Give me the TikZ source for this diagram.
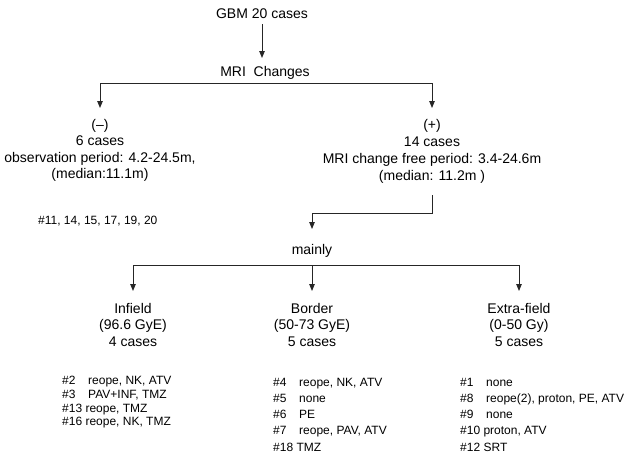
\documentclass[tikz,border=0pt]{standalone}
\usepackage{fontspec}
\setmainfont{Liberation Sans}
\usetikzlibrary{arrows.meta}
\begin{document}
\begin{tikzpicture}[x=1pt,y=-1pt,
  txt/.style={font=\fontsize{14}{17}\selectfont, inner sep=0pt, align=center},
  lst/.style={font=\fontsize{12}{14}\selectfont, inner sep=0pt, anchor=base west},
  line/.style={line width=0.9pt, draw=black!85},
  arr/.style={line, -{Triangle[length=7pt,width=5.5pt]}}]
\useasboundingbox[fill=white] (0,0) rectangle (626,455);
% text nodes
\node[txt] (gbm) at (262,14) {GBM 20 cases};
\node[txt] (mri) at (265,73) {MRI\ \ Changes};
\node[txt, font=\fontsize{14}{16.5}\selectfont] (neg) at (100,150.5) {(–)\\6 cases\\observation period: 4.2-24.5m,\\(median:11.1m)};
\node[txt, font=\fontsize{14}{17}\selectfont] (pos) at (432,151.5) {(+)\\14 cases\\MRI change free period: 3.4-24.6m\\(median: 11.2m )};
\node[lst] (negl) at (38,224) {\#11, 14, 15, 17, 19, 20};
\node[txt] (mainly) at (312,251) {mainly};
\node[txt, font=\fontsize{14}{16.5}\selectfont] (inf) at (133,324.5) {Infield\\(96.6 GyE)\\4 cases};
\node[txt, font=\fontsize{14}{16.5}\selectfont] (bor) at (312,324.5) {Border\\(50-73 GyE)\\5 cases};
\node[txt, font=\fontsize{14}{16.5}\selectfont] (ext) at (519,324.5) {Extra-field\\(0-50 Gy)\\5 cases};
% lists
\node[lst] (i1) at (62,384) {\makebox[26pt][l]{\#2}reope, NK, ATV};
\node[lst] (i2) at (62,398) {\makebox[26pt][l]{\#3}PAV+INF, TMZ};
\node[lst] (i3) at (62,412) {\#13 reope, TMZ};
\node[lst] (i4) at (62,425) {\#16 reope, NK, TMZ};
\node[lst] (b1) at (273,386) {\makebox[26pt][l]{\#4}reope, NK, ATV};
\node[lst] (b2) at (273,402) {\makebox[26pt][l]{\#5}none};
\node[lst] (b3) at (273,418) {\makebox[26pt][l]{\#6}PE};
\node[lst] (b4) at (273,434) {\makebox[26pt][l]{\#7}reope, PAV, ATV};
\node[lst] (b5) at (273,451) {\#18 TMZ};
\node[lst] (e1) at (460,386) {\makebox[26pt][l]{\#1}none};
\node[lst] (e2) at (460,402) {\makebox[26pt][l]{\#8}reope(2), proton, PE, ATV};
\node[lst] (e3) at (460,418) {\makebox[26pt][l]{\#9}none};
\node[lst] (e4) at (460,434) {\#10 proton, ATV};
\node[lst] (e5) at (460,451) {\#12 SRT};
% connector points
\coordinate (gbmTip) at (262,58);
\coordinate (barL) at (100,83);
\coordinate (barR) at (432,83);
\coordinate (negTip) at (100,108);
\coordinate (posTip) at (432,108);
\coordinate (posOut) at (432,195);
\coordinate (mainTip) at (312,229);
\coordinate (bar2L) at (133,265);
\coordinate (bar2M) at (312,265);
\coordinate (bar2R) at (519,265);
\coordinate (infTip) at (133,291);
\coordinate (borTip) at (312,291);
\coordinate (extTip) at (519,291);
% connectors
\draw[arr] ([yshift=-5pt]gbm.south) -- (gbmTip);
\draw[line] (barL) -- (barR);
\draw[arr] (barL) -- (negTip);
\draw[arr] (barR) -- (posTip);
\draw[arr] (posOut) -- (432,213) -- (312,213) -- (mainTip);
\draw[line] (bar2L) -- (bar2R);
\draw[arr] (bar2L) -- (infTip);
\draw[arr] (bar2M) -- (borTip);
\draw[arr] (bar2R) -- (extTip);
\end{tikzpicture}
\end{document}
